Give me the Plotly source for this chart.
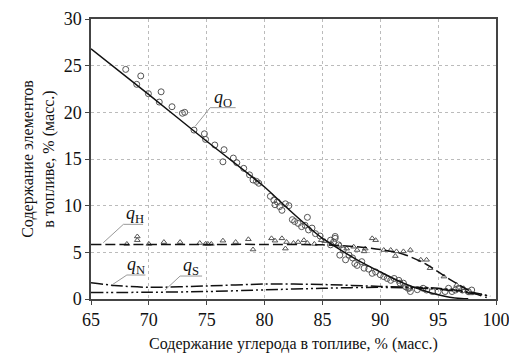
import plotly.graph_objects as go

# ---- fitted curves ----
o_curve_x = [65, 70, 75, 78, 80, 82, 84, 85, 86, 88, 90, 92, 94, 95, 96, 97, 97.6]
o_curve_y = [26.8, 21.9, 16.9, 14.0, 12.0, 9.7, 7.5, 6.5, 5.7, 4.2, 2.9, 1.7, 0.8, 0.45, 0.18, 0.05, 0.02]

h_curve_x = [65, 70, 75, 80, 85, 88, 90, 92, 94, 96, 98, 99.2]
h_curve_y = [5.85, 5.85, 5.85, 5.85, 5.8, 5.6, 5.3, 4.8, 3.7, 2.1, 0.7, 0.15]

n_curve_x = [65, 67, 70, 75, 80, 85, 90, 95, 98, 99.5]
n_curve_y = [1.75, 1.45, 1.25, 1.4, 1.6, 1.55, 1.35, 1.15, 0.7, 0.3]

s_curve_x = [65, 70, 75, 80, 85, 90, 95, 98, 99.5]
s_curve_y = [0.7, 0.72, 0.8, 0.98, 1.15, 1.25, 1.05, 0.6, 0.3]

# ---- measured points ----
o_pts_x = [68.0, 69.3, 68.95, 69.96, 71.06, 70.9, 72.0, 72.9, 73.1, 73.9, 74.8, 74.9, 75.7, 76.5,
           76.4, 77.3, 77.6, 78.2, 78.7, 79.0, 79.3, 79.5, 80.5, 80.8, 81.1, 80.9, 81.3, 81.5,
           81.8, 82.1, 82.4, 82.6, 82.9, 83.7, 83.2, 83.5, 83.8, 84.1, 84.4, 84.8, 85.7, 86.1,
           86.1, 85.96, 86.4, 85.7, 86.8, 87.3, 87.6, 86.5, 87.0, 87.8, 88.4, 88.6, 89.3, 89.6,
           90.0, 90.3, 90.6, 90.9, 91.2, 91.6, 91.7, 92.2, 92.6, 92.4, 93.7, 94.0, 94.5, 92.0,
           92.5, 95.0, 95.6, 95.9, 96.2, 96.5, 96.8, 97.1, 97.6, 97.9, 93.2, 89.0, 88.0]
o_pts_y = [24.6, 23.9, 23.0, 22.0, 22.2, 21.1, 20.6, 19.9, 20.0, 18.1, 17.7, 17.1, 16.5, 16.0,
           14.7, 15.1, 14.6, 14.0, 13.3, 12.75, 12.6, 12.4, 11.0, 10.6, 10.4, 10.1, 9.9, 9.5,
           10.2, 10.0, 8.5, 8.3, 8.1, 8.75, 7.75, 7.9, 7.4, 7.6, 7.0, 6.75, 6.3, 6.5,
           6.7, 6.1, 5.8, 5.8, 5.25, 4.7, 4.4, 4.7, 4.2, 3.8, 4.0, 3.3, 2.75, 2.9,
           2.6, 2.4, 2.2, 2.0, 2.2, 2.0, 1.7, 1.3, 0.8, 1.15, 1.15, 0.96, 0.8, 1.7,
           1.15, 0.8, 0.8, 1.15, 0.8, 0.96, 1.15, 0.96, 0.8, 0.96, 1.0, 3.2, 3.6]

h_pts_x = [68.1, 69.0, 69.0, 70.0, 71.3, 72.7, 74.4, 74.9, 75.1, 75.4, 76.4, 77.5, 78.6, 79.0,
           80.6, 80.9, 81.5, 81.9, 81.8, 82.5, 82.9, 83.4, 83.7, 84.3, 86.5, 87.1, 87.7, 88.0,
           88.6, 89.3, 89.6, 88.7, 90.3, 90.9, 91.4, 92.0, 92.6, 91.3, 93.5, 94.0, 94.3, 95.5,
           96.6, 97.2, 97.8, 85.2, 85.8, 84.9]
h_pts_y = [5.9, 6.7, 6.3, 5.9, 6.1, 6.1, 6.0, 5.9, 5.9, 5.9, 6.25, 6.1, 6.4, 5.3,
           6.5, 6.25, 6.5, 6.1, 5.4, 6.0, 6.1, 6.3, 6.0, 5.9, 5.8, 5.4, 5.6, 5.25,
           5.1, 6.5, 6.3, 5.4, 5.25, 5.25, 5.1, 5.1, 5.25, 4.6, 4.2, 4.2, 3.3, 2.4,
           1.5, 1.15, 0.6, 6.2, 5.9, 6.3]

# ---- axis ticks ----
x_ticks = [65, 70, 75, 80, 85, 90, 95, 100]
y_ticks = [0, 5, 10, 15, 20, 25, 30]

# ---- curve labels: text position, underline span, leader end ----
label_text = ["<i>q</i><sub>O</sub>", "<i>q</i><sub>H</sub>", "<i>q</i><sub>N</sub>", "<i>q</i><sub>S</sub>"]
label_x = [76.4, 68.8, 68.9, 73.6]
label_y = [21.5, 9.1, 3.6, 3.5]
under_x0 = [75.3, 67.8, 68.1, 72.7]
under_x1 = [77.5, 69.5, 69.7, 74.6]
under_y = [20.5, 8.0, 2.57, 2.46]
leader_x = [74.0, 66.06, 66.8, 71.4]
leader_y = [18.5, 6.03, 1.5, 0.96]

FONT = "Liberation Serif"
fig = go.Figure()

fig.add_trace(go.Scatter(x=o_pts_x, y=o_pts_y, mode="markers",
                         marker=dict(symbol="circle-open", size=6, color="#555", line=dict(width=1))))
fig.add_trace(go.Scatter(x=h_pts_x, y=h_pts_y, mode="markers",
                         marker=dict(symbol="triangle-up-open", size=5, color="#555", line=dict(width=1))))

fig.add_trace(go.Scatter(x=o_curve_x, y=o_curve_y, mode="lines",
                         line=dict(color="#111", width=1.5, shape="spline", smoothing=0.8)))
fig.add_trace(go.Scatter(x=h_curve_x, y=h_curve_y, mode="lines",
                         line=dict(color="#111", width=1.5, dash="10px,4px", shape="spline", smoothing=0.8)))
fig.add_trace(go.Scatter(x=n_curve_x, y=n_curve_y, mode="lines",
                         line=dict(color="#111", width=1.5, dash="12px,3px,2px,3px", shape="spline", smoothing=0.8)))
fig.add_trace(go.Scatter(x=s_curve_x, y=s_curve_y, mode="lines",
                         line=dict(color="#111", width=1.5, dash="12px,3px,2px,3px,2px,3px", shape="spline", smoothing=0.8)))

for i in range(len(label_text)):
    fig.add_trace(go.Scatter(x=[leader_x[i], under_x0[i], under_x1[i]],
                             y=[leader_y[i], under_y[i], under_y[i]],
                             mode="lines", line=dict(color="#999", width=1)))
    fig.add_annotation(x=label_x[i], y=label_y[i], text=label_text[i], showarrow=False,
                       font=dict(family=FONT, size=18, color="#111"))

tick_font = dict(family=FONT, size=18, color="#111")
axis_common = dict(showline=True, linecolor="#444", linewidth=1.5, mirror=True,
                   ticks="outside", ticklen=4, tickcolor="#444",
                   showgrid=True, gridcolor="#bbb", griddash="dot", gridwidth=1,
                   zeroline=False, automargin=False, tickmode="array",
                   ticklabeloverflow="allow")

fig.update_layout(
    width=509, height=356, showlegend=False,
    margin=dict(l=91, r=13, t=19, b=57),
    font=dict(family=FONT, size=16, color="#111"),
    plot_bgcolor="white", paper_bgcolor="white",
    xaxis=dict(range=[65, 100], tickvals=x_ticks, ticktext=[str(v) for v in x_ticks],
               tickfont=tick_font,
               title=dict(text="Содержание углерода в топливе, % (масс.)",
                          font=dict(family=FONT, size=16, color="#111"), standoff=8),
               **axis_common),
    yaxis=dict(range=[0, 30], tickvals=y_ticks, ticktext=[str(v) for v in y_ticks],
               tickfont=tick_font,
               title=dict(text="Содержание элементов<br>в топливе, % (масс.)",
                          font=dict(family=FONT, size=16, color="#111"), standoff=5),
               **axis_common),
)

fig.write_html("out.html")
